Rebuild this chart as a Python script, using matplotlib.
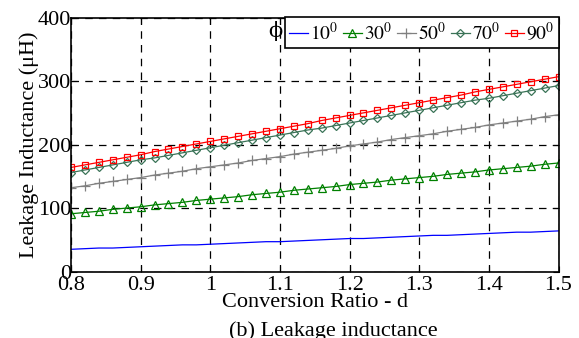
import numpy as np
import matplotlib.pyplot as plt

plt.rcParams['font.family'] = ['Liberation Serif', 'DejaVu Serif']
plt.rcParams['mathtext.fontset'] = 'stix'

# Conversion ratio d
d = np.linspace(0.8, 1.5, 36)

# Leakage inductance (uH) for each phi
L10 = [35, 36, 37, 37, 38, 39, 40, 41, 42, 42, 43, 44, 45, 46, 47, 47, 48, 49,
       50, 51, 52, 52, 53, 54, 55, 56, 57, 57, 58, 59, 60, 61, 62, 62, 63, 64]
L30 = [91, 93, 95, 98, 100, 102, 105, 107, 109, 112, 114, 116, 118, 121, 123, 125, 128, 130,
       132, 134, 137, 139, 141, 144, 146, 148, 150, 153, 155, 157, 160, 162, 164, 166, 169, 171]
L50 = [132, 135, 139, 142, 145, 148, 152, 155, 158, 162, 165, 168, 171, 175, 178, 181, 185, 188,
       191, 194, 198, 201, 204, 208, 211, 214, 217, 221, 224, 227, 231, 234, 237, 240, 244, 247]
L70 = [156, 160, 164, 168, 172, 176, 179, 183, 187, 191, 195, 199, 203, 207, 211, 215, 219, 223,
       226, 230, 234, 238, 242, 246, 250, 254, 258, 262, 266, 270, 273, 277, 281, 285, 289, 293]
L90 = [164, 168, 172, 176, 180, 184, 189, 193, 197, 201, 205, 209, 213, 217, 221, 225, 229, 233,
       238, 242, 246, 250, 254, 258, 262, 266, 270, 274, 278, 283, 287, 291, 295, 299, 303, 307]

fig = plt.figure(figsize=(5.79, 3.38), dpi=100)
ax = fig.add_axes([0.1226, 0.1967, 0.842, 0.751])

ax.plot(d, L10, color='#0000ff', lw=0.9, label='$10^0$')
ax.plot(d, L30, color='#008000', lw=0.9, marker='^', ms=6, mfc='none', mew=0.9, label='$30^0$')
ax.plot(d, L50, color='#808080', lw=0.9, marker='+', ms=7, mew=0.9, label='$50^0$')
ax.plot(d, L70, color='#3a7357', lw=0.9, marker='D', ms=4.5, mfc='none', mew=0.9, label='$70^0$')
ax.plot(d, L90, color='#ff0000', lw=0.9, marker='s', ms=5, mfc='none', mew=0.9, label='$90^0$')

ax.set_xlim(0.8, 1.5)
ax.set_ylim(0, 400)
ax.set_xticks([0.8, 0.9, 1.0, 1.1, 1.2, 1.3, 1.4, 1.5])
ax.set_xticklabels(['0.8', '0.9', '1', '1.1', '1.2', '1.3', '1.4', '1.5'])
ax.set_yticks([0, 100, 200, 300, 400])
ax.tick_params(direction='in', labelsize=16, top=True, right=True, length=4, pad=0)
ax.tick_params(axis='x', pad=3)
ax.grid(True, color='black', ls=(0, (6, 5)), lw=0.9)
for s in ax.spines.values():
    s.set_linewidth(1.2)

ax.set_xlabel('Conversion Ratio - d', fontsize=16, labelpad=-1)
ax.set_ylabel('Leakage Inductance (\u03bcH)', fontsize=16, labelpad=-1)

leg = ax.legend(ncol=5, loc='upper right', bbox_to_anchor=(1.0, 1.003), fontsize=14,
                frameon=True, fancybox=False, framealpha=1, edgecolor='black',
                handlelength=1.0, handletextpad=0.12, columnspacing=0.2,
                borderpad=0.2, borderaxespad=0)
leg.get_frame().set_linewidth(1.2)

# phi label just left of the legend box
fig.canvas.draw()
bb = leg.get_window_extent().transformed(fig.transFigure.inverted())
fig.text(bb.x0 - 0.004, bb.y1 - 0.012, '\u03d5', fontsize=15, ha='right', va='top',
         family=['DejaVu Serif'])

fig.text(0.575, 0.02, '(b) Leakage inductance', fontsize=16, ha='center', va='center')

fig.savefig('out.png', dpi=100)
